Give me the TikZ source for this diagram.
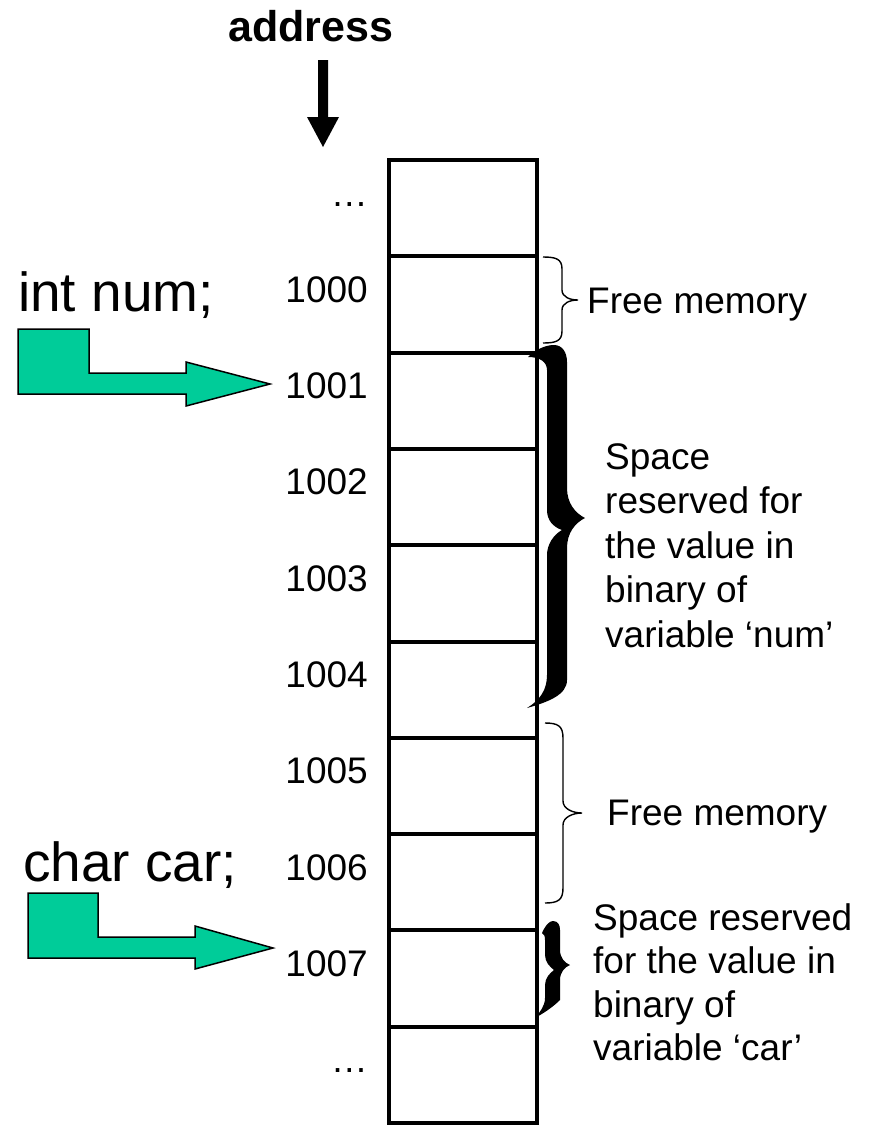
\documentclass[tikz,border=0pt]{standalone}
\usepackage{fontspec}
\setmainfont{Liberation Sans}
\definecolor{arrowgreen}{RGB}{0,204,153}
\begin{document}
\begin{tikzpicture}[x=1pt,y=-1pt,
  cell/.style={draw,line width=4pt,minimum width=148pt,minimum height=96.3pt,
    inner sep=0pt,outer sep=0pt,anchor=north west},
  addr/.style={anchor=base east,inner sep=0pt,font=\fontsize{37}{44}\selectfont},
  note/.style={anchor=base west,inner sep=0pt,font=\fontsize{37}{44}\selectfont},
  decl/.style={anchor=base west,inner sep=0pt,font=\fontsize{55}{60}\selectfont},
  blockarrow/.style={fill=arrowgreen,draw=black,line width=1.5pt,line join=miter},
  thinbrace/.style={draw,line width=1.4pt},
  fatbrace/.style={fill=black}]
\useasboundingbox (0,0) rectangle (874,1125);

% memory column
\foreach \k in {0,...,9}
  \node[cell] (c\k) at (389,{160+96.3*\k}) {};

% addresses
\node[addr] (a0) at (368,206)    {…};
\node[addr] (a1) at (368,302.3)  {1000};
\node[addr] (a2) at (368,398.6)  {1001};
\node[addr] (a3) at (368,494.9)  {1002};
\node[addr] (a4) at (368,591.2)  {1003};
\node[addr] (a5) at (368,687.5)  {1004};
\node[addr] (a6) at (368,783.8)  {1005};
\node[addr] (a7) at (368,880.1)  {1006};
\node[addr] (a8) at (368,976.4)  {1007};
\node[addr] (a9) at (368,1072.7) {…};

% header
\node[anchor=base,inner sep=0pt,font=\bfseries\fontsize{43}{50}\selectfont] (head) at (311,41) {address};
\fill[black] (318,60) -- (328,60) -- (328,117) -- (339,117) -- (323,147)
  -- (307,117) -- (318,117) -- cycle;

% declarations
\node[decl] (dnum) at (18,311) {int num;};
\node[decl] (dcar) at (23,881) {char car;};
\draw[blockarrow] (18,329) -- (89,329) -- (89,373) -- (186,373) -- (186,362)
  -- (270,384) -- (186,406) -- (186,394) -- (18,394) -- cycle;
\draw[blockarrow] (28,893) -- (98,893) -- (98,937) -- (195,937) -- (195,926)
  -- (273,948) -- (195,969) -- (195,958) -- (28,958) -- cycle;

% thin braces (free memory)
\draw[thinbrace] (543,257) .. controls (556,257) and (562,259) .. (562,269)
  -- (562,290) .. controls (562,297) and (570,300) .. (578,300)
  .. controls (570,300) and (562,303) .. (562,310)
  -- (562,331) .. controls (562,341) and (556,343) .. (543,343);
\draw[thinbrace] (545,723) .. controls (558,723) and (563,726) .. (563,738)
  -- (563,801) .. controls (563,809) and (573,813) .. (582,813)
  .. controls (573,813) and (563,817) .. (563,825)
  -- (563,888) .. controls (563,900) and (558,903) .. (545,903);

% heavy braces (reserved space)
\fill[fatbrace] (528,357) .. controls (535,350) and (545,345) .. (554,345)
  .. controls (562,345) and (567,352) .. (567,362) -- (567,488)
  .. controls (567,503) and (575,513) .. (585,518)
  .. controls (575,523) and (567,533) .. (567,548) -- (567,680)
  .. controls (567,695) and (548,702) .. (527,708)
  .. controls (540,700) and (547,690) .. (547,675) -- (547,555)
  .. controls (547,545) and (553,535) .. (562,530)
  .. controls (553,527) and (547,520) .. (547,510) -- (547,370)
  .. controls (547,362) and (540,357) .. (528,357) -- cycle;
\fill[fatbrace] (542,933) .. controls (546,924) and (550,921) .. (553,921)
  .. controls (558,921) and (560,925) .. (560,930) -- (560,950)
  .. controls (560,958) and (565,963) .. (570,965)
  .. controls (565,967) and (560,972) .. (560,980) -- (560,1000)
  .. controls (552,1008) and (542,1014) .. (535,1018)
  .. controls (540,1012) and (545,1006) .. (545,998) -- (545,985)
  .. controls (545,978) and (550,973) .. (554,970)
  .. controls (550,967) and (545,962) .. (545,955) -- (545,940)
  .. controls (545,936) and (544,934) .. (542,933) -- cycle;

% notes
\node[note] (free1) at (587,313.5) {Free memory};
\node[note] (num1) at (605,469)   {Space};
\node[note] (num2) at (605,513.5) {reserved for};
\node[note] (num3) at (605,558)   {the value in};
\node[note] (num4) at (605,602.5) {binary of};
\node[note] (num5) at (605,647)   {variable ‘num’};
\node[note] (free2) at (607,825)  {Free memory};
\node[note] (car1) at (593,930)   {Space reserved};
\node[note] (car2) at (593,973.5) {for the value in};
\node[note] (car3) at (593,1017)  {binary of};
\node[note] (car4) at (593,1060.5){variable ‘car’};
\end{tikzpicture}
\end{document}
